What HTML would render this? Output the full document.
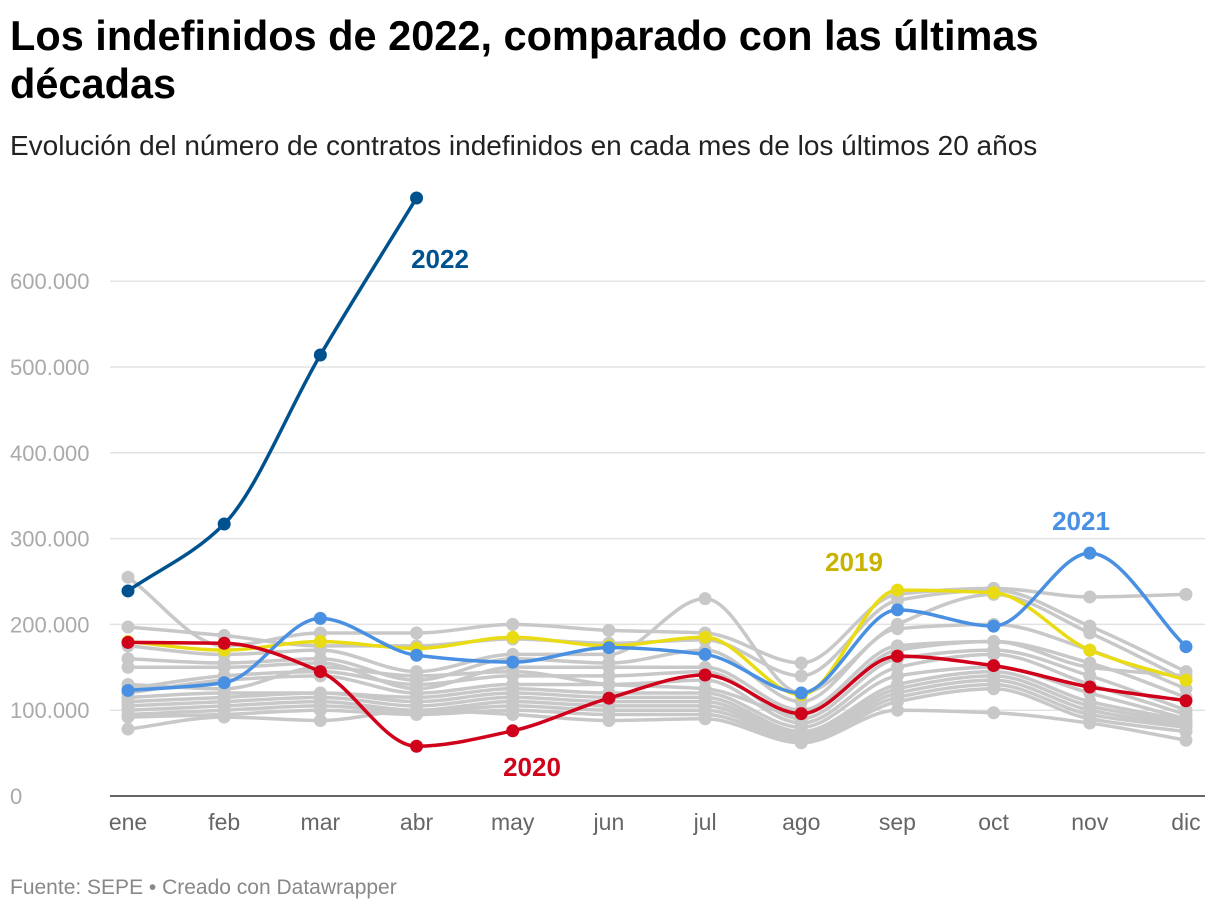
<!DOCTYPE html>
<html><head><meta charset="utf-8"><style>
body{margin:0;background:#fff;font-family:"Liberation Sans",sans-serif;width:1220px;height:912px;overflow:hidden}
h1{position:absolute;left:10px;top:12px;margin:0;font-size:41.5px;line-height:48px;font-weight:bold;color:#000;width:1090px}
.sub{position:absolute;left:10px;top:130px;font-size:28px;color:#222;white-space:nowrap}
.foot{position:absolute;left:10px;top:876px;font-size:21px;color:#888}
svg{position:absolute;left:0;top:0}
</style></head><body>
<h1>Los indefinidos de 2022, comparado con las últimas décadas</h1>
<div class="sub">Evolución del número de contratos indefinidos en cada mes de los últimos 20 años</div>
<div class="foot">Fuente: SEPE • Creado con Datawrapper</div>
<svg id="c" width="1220" height="912"></svg>
<script>
const months=["ene","feb","mar","abr","may","jun","jul","ago","sep","oct","nov","dic"];
const yTicks=[0,100000,200000,300000,400000,500000,600000];
const yTickLabels=["0","100.000","200.000","300.000","400.000","500.000","600.000"];
const grey=[
[255,175,190,190,200,193,190,155,235,242,232,235],
[197,187,175,175,183,178,182,140,228,240,198,145],
[175,165,170,145,165,165,230,120,200,235,190,135],
[160,155,160,135,160,155,170,110,195,200,170,125],
[150,150,155,125,150,150,150,100,175,180,155,115],
[125,140,145,130,140,140,145,90,160,170,140,100],
[120,135,140,120,130,130,135,85,150,165,130,95],
[115,120,120,115,125,120,120,80,140,150,120,90],
[110,115,120,110,120,115,115,75,130,145,110,88],
[105,110,115,105,115,110,110,72,125,140,105,85],
[100,105,110,100,110,105,105,70,120,135,100,82],
[95,100,105,98,105,100,100,68,115,130,95,80],
[92,95,100,95,100,95,95,65,110,125,90,75],
[78,92,88,100,95,88,90,62,100,97,85,65],
[130,125,150,140,145,130,125,95,170,180,150,140]];
const s2019=[180,170,180,172,185,175,185,118,240,237,170,135];
const s2020=[179,178,145,58,76,114,141,96,163,152,127,111];
const s2021=[123,132,207,164,156,173,165,120,217,198,283,174];
const s2022=[239,317,514,697];
const svg=document.getElementById('c');const NS='http://www.w3.org/2000/svg';
const X=i=>128+i*96.18;
function Yk(v){return 796-v*0.858;}
function el(t,a,p){const e=document.createElementNS(NS,t);for(const k in a)e.setAttribute(k,a[k]);(p||svg).appendChild(e);return e;}
yTicks.forEach((t,i)=>{const y=Yk(t/1000);
 const l=el('line',{x1:110,x2:1205,y1:y,y2:y,stroke:i==0?'#333':'#e3e3e3','stroke-width':1.5});
 
 const tx=el('text',{x:10,y:y+8,'font-size':22,fill:'#aaa'});tx.textContent=yTickLabels[i];
 });
months.forEach((m,i)=>{const tx=el('text',{x:X(i),y:830,'font-size':23,fill:'#666','text-anchor':'middle'});tx.textContent=m;
 });
function path(vals){const p=vals.map((v,i)=>[X(i),Yk(v)]);const n=p.length;
 const d=[],m=[];for(let i=0;i<n-1;i++)d.push((p[i+1][1]-p[i][1])/(p[i+1][0]-p[i][0]));
 for(let i=0;i<n;i++){if(i==0)m.push(d[0]);else if(i==n-1)m.push(d[n-2]);else m.push(d[i-1]*d[i]<=0?0:2*d[i-1]*d[i]/(d[i-1]+d[i]));}
 let s='M'+p[0][0]+','+p[0][1];for(let i=0;i<n-1;i++){const h=(p[i+1][0]-p[i][0])/3;
 s+=` C${p[i][0]+h},${p[i][1]+m[i]*h} ${p[i+1][0]-h},${p[i+1][1]-m[i+1]*h} ${p[i+1][0]},${p[i+1][1]}`;}return s;}
function series(vals,col,name){const g=el('g',{});
 const pa=el('path',{d:path(vals),fill:'none',stroke:col,'stroke-width':3.5},g);
 
 vals.forEach((v,i)=>{const c=el('circle',{cx:X(i),cy:Yk(v),r:6.5,fill:col},g);
 });}
grey.forEach((s,i)=>series(s,'#c8c8c8','series-grey-'+i));
series(s2019,'#eadc14','series-2019');
series(s2021,'#4a90e2','series-2021');
series(s2020,'#d0021b','series-2020');
series(s2022,'#00528f','series-2022');
[[ '2022',440,268,'#00528f'],['2021',1081,530,'#4a90e2'],['2019',854,571,'#c8b400'],['2020',532,776,'#d0021b']].forEach(a=>{
 const t=el('text',{x:a[1],y:a[2],'font-size':26,'font-weight':'bold',fill:a[3],'text-anchor':'middle'});t.textContent=a[0];
 });
</script>
</body></html>
